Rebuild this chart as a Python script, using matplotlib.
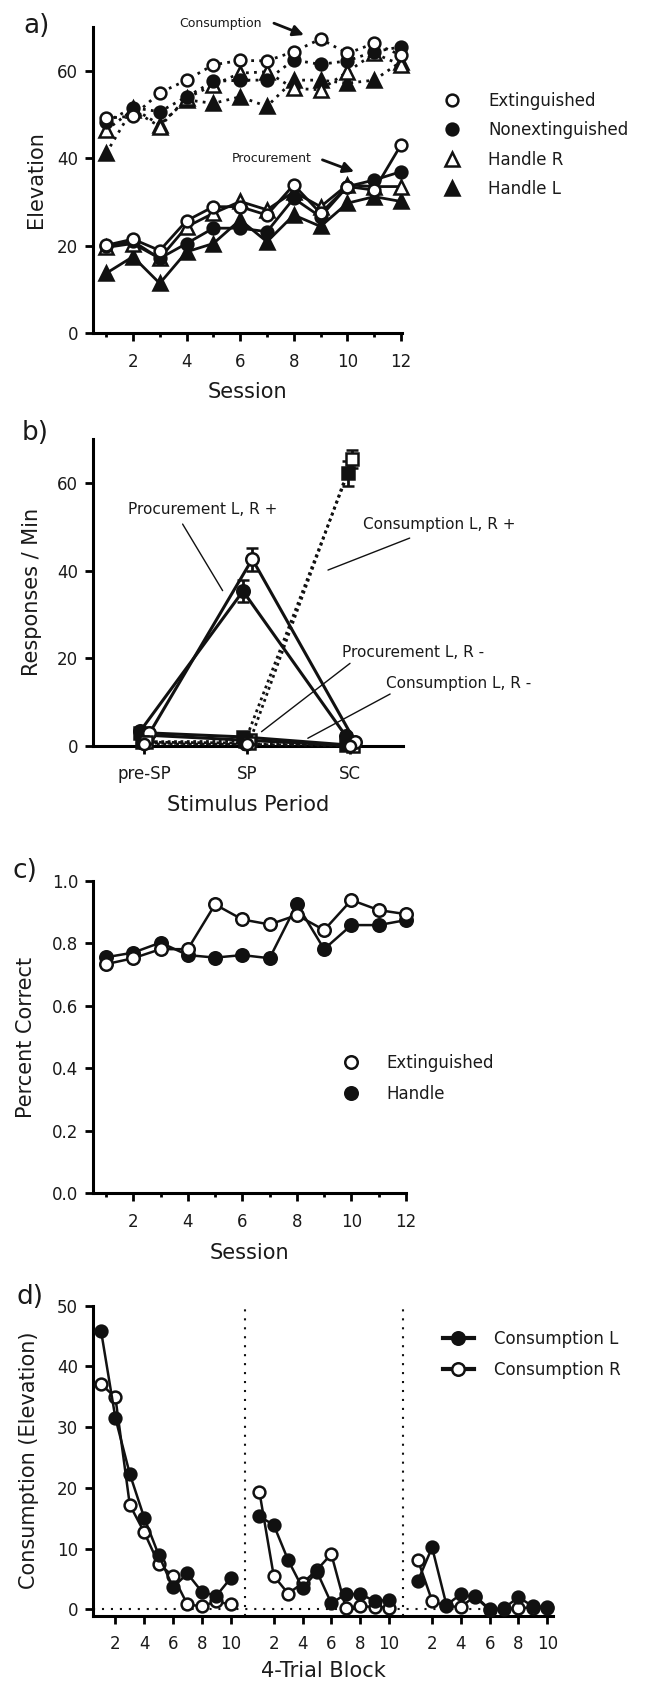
import numpy as np
import matplotlib.pyplot as plt
from matplotlib.lines import Line2D
from matplotlib.ticker import FixedLocator, FormatStrFormatter

plt.rcParams['font.family'] = ['DejaVu Sans']
plt.rcParams['text.color'] = '#1a1a1a'
plt.rcParams['axes.labelcolor'] = '#1a1a1a'
plt.rcParams['xtick.color'] = 'black'
plt.rcParams['ytick.color'] = 'black'
plt.rcParams['xtick.labelcolor'] = '#1a1a1a'
plt.rcParams['ytick.labelcolor'] = '#1a1a1a'

W, H = 659, 1682

# ---- panel a data ----
sessions = np.arange(1, 13)
cons_ext = [49.1, 49.6, 54.9, 57.8, 61.3, 62.3, 62.2, 64.3, 67.2, 63.9, 66.2, 63.5]
cons_nonext = [48.3, 51.5, 50.6, 54.0, 57.5, 57.8, 57.8, 62.4, 61.4, 62.2, 64.3, 65.4]
cons_hr = [46.4, 51.0, 47.2, 53.7, 56.7, 59.4, 59.7, 55.9, 55.6, 59.7, 63.9, 61.3]
cons_hl = [41.1, 51.4, 47.6, 53.3, 52.5, 54.0, 51.8, 57.8, 57.8, 57.1, 57.8, 62.0]
proc_ext = [20.1, 21.5, 18.9, 25.7, 28.9, 28.9, 27.0, 33.9, 27.4, 33.5, 32.7, 43.0]
proc_nonext = [20.0, 21.0, 17.1, 20.5, 24.0, 24.0, 23.2, 30.8, 26.6, 33.5, 35.0, 36.9]
proc_hr = [19.6, 20.5, 17.1, 24.3, 27.4, 30.1, 28.2, 32.3, 28.9, 33.9, 33.5, 33.5]
proc_hl = [13.7, 17.5, 11.4, 18.6, 20.5, 25.9, 20.9, 27.0, 24.4, 29.7, 31.2, 30.1]
labels_a = ['Extinguished', 'Nonextinguished', 'Handle R', 'Handle L']

# ---- panel b data ----
periods = ['pre-SP', 'SP', 'SC']
proc_pos_L = [3.3, 35.3, 2.2]
proc_pos_L_err = [0.6, 2.5, 0.6]
proc_pos_R = [2.8, 42.6, 0.9]
proc_pos_R_err = [0.5, 2.6, 0.5]
proc_neg_L = [3.0, 2.0, 0.2]
proc_neg_R = [2.4, 1.2, 0.0]
cons_pos_L = [0.9, 1.0, 62.2]
cons_pos_L_err = [0.3, 0.4, 2.9]
cons_pos_R = [0.8, 0.6, 65.4]
cons_pos_R_err = [0.3, 0.3, 2.0]
cons_neg_L = [0.6, 0.4, 0.2]
cons_neg_R = [0.4, 0.3, 0.0]

# ---- panel c data ----
pc_ext = [0.733, 0.752, 0.781, 0.781, 0.924, 0.876, 0.860, 0.890, 0.842, 0.938, 0.906, 0.893]
pc_handle = [0.755, 0.770, 0.802, 0.762, 0.754, 0.762, 0.752, 0.925, 0.781, 0.858, 0.858, 0.874]

# ---- panel d data ----
blocks = np.arange(1, 11)
group_offsets = [0, 11, 22]
cons_L = [[45.9, 31.5, 22.3, 15.1, 9.0, 3.6, 5.9, 2.9, 2.2, 5.1],
          [15.3, 13.9, 8.1, 3.5, 6.2, 1.0, 2.5, 2.5, 1.4, 1.5],
          [4.6, 10.2, 0.7, 2.5, 2.0, -0.1, 0.2, 2.0, 0.5, 0.4]]
cons_R = [[37.1, 34.9, 17.2, 12.7, 7.5, 5.5, 0.8, 0.5, 1.3, 0.8],
          [19.4, 5.5, 2.6, 4.3, 6.5, 9.1, 0.3, 0.5, 0.4, 0.3],
          [8.2, 1.4, 0.5, 0.4, 2.2, 0.0, 0.0, 0.2, 0.3, 0.2]]

BLK = '#111111'
dotted = (0, (1, 1.9))


def px_axes(fig, left, top, right, bottom):
    return fig.add_axes([left / W, 1 - bottom / H, (right - left) / W, (bottom - top) / H])


def style(ax):
    for s in ['top', 'right']:
        ax.spines[s].set_visible(False)
    for s in ['left', 'bottom']:
        ax.spines[s].set_linewidth(2.2)
        ax.spines[s].set_color('black')
    ax.tick_params(axis='both', which='major', length=6, width=2, labelsize=12)
    ax.tick_params(axis='x', which='major', pad=8)
    ax.tick_params(axis='y', which='major', pad=5)
    ax.tick_params(axis='both', which='minor', length=3, width=2)


def leg(ax, handles, labels, left, top, hl, htp, ls):
    ax.legend(handles, labels, loc='upper left', bbox_to_anchor=(left / W, 1 - top / H),
              bbox_transform=fig.transFigure, frameon=False, borderpad=0, borderaxespad=0,
              handlelength=hl, handletextpad=htp, labelspacing=ls, fontsize=12)


fig = plt.figure(figsize=(W / 100, H / 100), dpi=100)

# ================= a) =================
ax = px_axes(fig, 93.3, 26.7, 401.5, 333.3)
style(ax)
mk = [dict(marker='o', mfc='white'), dict(marker='o', mfc=BLK),
      dict(marker='^', mfc='white'), dict(marker='^', mfc=BLK)]
cons = [cons_ext, cons_nonext, cons_hr, cons_hl]
proc = [proc_ext, proc_nonext, proc_hr, proc_hl]
for i in [3, 2, 1, 0]:
    ms = 9.5 if mk[i]['marker'] == '^' else 8.5
    ax.plot(sessions, cons[i], ls=dotted, lw=2, color=BLK, mec=BLK, mew=1.8, ms=ms,
            clip_on=False, zorder=3 + (3 - i) * 0.1, **mk[i])
    ax.plot(sessions, proc[i], ls='-', lw=2, color=BLK, mec=BLK, mew=1.8, ms=ms,
            clip_on=False, zorder=3 + (3 - i) * 0.1, **mk[i])
ax.set_xlim(0.52, 12.02)
ax.set_ylim(0, 70)
ax.set_yticks([0, 20, 40, 60])
ax.xaxis.set_major_locator(FixedLocator([2, 4, 6, 8, 10, 12]))
ax.xaxis.set_minor_locator(FixedLocator([1, 3, 5, 7, 9, 11]))
ax.set_xlabel('Session', fontsize=15)
ax.set_ylabel('Elevation', fontsize=15)
ax.xaxis.set_label_coords(0.5, -0.158)
ax.yaxis.set_label_coords(-0.154, 0.5)
ax.annotate('', xy=(8.38, 68.1), xytext=(7.26, 70.8),
            arrowprops=dict(arrowstyle='-|>', lw=2, color=BLK, mutation_scale=16,
                            shrinkA=0, shrinkB=0), annotation_clip=False)
ax.text(5.26, 70.8, 'Consumption', fontsize=9, ha='center', va='center')
ax.annotate('', xy=(10.25, 36.9), xytext=(9.07, 39.6),
            arrowprops=dict(arrowstyle='-|>', lw=2, color=BLK, mutation_scale=16,
                            shrinkA=0, shrinkB=0))
ax.text(7.16, 40.0, 'Procurement', fontsize=9, ha='center', va='center')
hs = [Line2D([], [], ls='none', mec=BLK, mew=1.8, ms=(9.5 if m['marker'] == '^' else 8.5), **m)
      for m in mk]
leg(ax, hs, labels_a, 443.7, 92, 1, 1.66, 0.68)
fig.text(23 / W, 1 - 13 / H, 'a)', fontsize=19, ha='left', va='top')

# ================= b) =================
ax = px_axes(fig, 93.3, 439.1, 403.3, 745.7)
style(ax)
xb = np.arange(len(periods))
ax.errorbar(xb - 0.04, proc_pos_L, yerr=proc_pos_L_err, marker='o', ms=9, mfc=BLK, mec=BLK,
            mew=1.8, color=BLK, lw=2.2, capsize=4.5, capthick=2, elinewidth=2, clip_on=False, zorder=4)
ax.errorbar(xb + 0.05, proc_pos_R, yerr=proc_pos_R_err, marker='o', ms=9, mfc='white', mec=BLK,
            mew=1.8, color=BLK, lw=2.2, capsize=4.5, capthick=2, elinewidth=2, clip_on=False, zorder=4)
ax.plot(xb - 0.04, proc_neg_L, marker='s', ms=8.5, mfc=BLK, mec=BLK, mew=1.8, color=BLK, lw=2.2,
        clip_on=False, zorder=4)
ax.plot(xb + 0.03, proc_neg_R, marker='s', ms=8.5, mfc='white', mec=BLK, mew=1.8, color=BLK, lw=2.2,
        clip_on=False, zorder=4)
ax.errorbar(xb - 0.02, cons_pos_L, yerr=cons_pos_L_err, marker='s', ms=8.5, mfc=BLK, mec=BLK,
            mew=1.8, color=BLK, lw=2, ls=(0, (1, 1.3)), capsize=4.5, capthick=2, elinewidth=2,
            clip_on=False, zorder=5)
ax.errorbar(xb + 0.02, cons_pos_R, yerr=cons_pos_R_err, marker='s', ms=8.5, mfc='white', mec=BLK,
            mew=1.8, color=BLK, lw=2, ls=(0, (1, 1.3)), capsize=4.5, capthick=2, elinewidth=2,
            clip_on=False, zorder=5)
ax.plot(xb - 0.02, cons_neg_L, marker='o', ms=8, mfc=BLK, mec=BLK, mew=1.8, color=BLK, lw=2,
        ls=(0, (1, 1.3)), clip_on=False, zorder=5)
ax.plot(xb + 0.0, cons_neg_R, marker='o', ms=8, mfc='white', mec=BLK, mew=1.8, color=BLK, lw=2,
        ls=(0, (1, 1.3)), clip_on=False, zorder=6)
ax.set_xlim(-0.495, 2.518)
ax.set_ylim(0, 70)
ax.set_yticks([0, 20, 40, 60])
ax.set_xticks(xb)
ax.set_xticklabels(periods)
ax.set_xlabel('Stimulus Period', fontsize=15)
ax.set_ylabel('Responses / Min', fontsize=15)
ax.xaxis.set_label_coords(0.5, -0.16)
ax.yaxis.set_label_coords(-0.165, 0.5)
notes_b = [('Procurement L, R +', (0.57, 54.0), (0.373, 50.6), (0.762, 35.4)),
           ('Consumption L, R +', (2.87, 50.6), (2.58, 47.4), (1.786, 40.1)),
           ('Procurement L, R -', (2.61, 21.3), (2.0, 18.8), (1.14, 3.2)),
           ('Consumption L, R -', (3.06, 14.1), (2.39, 11.8), (1.59, 1.7))]
for txt, tp, p0, p1 in notes_b:
    ax.text(tp[0], tp[1], txt, fontsize=11, ha='center', va='center', clip_on=False)
    ax.annotate('', xy=p1, xytext=p0, annotation_clip=False,
                arrowprops=dict(arrowstyle='-', lw=1, color=BLK, shrinkA=0, shrinkB=0))
fig.text(22 / W, 1 - 420 / H, 'b)', fontsize=19, ha='left', va='top')

# ================= c) =================
ax = px_axes(fig, 93.3, 880.7, 406.5, 1193.3)
style(ax)
ax.plot(sessions, pc_handle, marker='o', ms=9, mfc=BLK, mec=BLK, mew=1.8, color=BLK, lw=1.8,
        clip_on=False, zorder=3)
ax.plot(sessions, pc_ext, marker='o', ms=9, mfc='white', mec=BLK, mew=1.8, color=BLK, lw=1.8,
        clip_on=False, zorder=4)
ax.set_xlim(0.535, 12.02)
ax.set_ylim(0, 1.0)
ax.set_yticks([0, 0.2, 0.4, 0.6, 0.8, 1.0])
ax.yaxis.set_major_formatter(FormatStrFormatter('%.1f'))
ax.xaxis.set_major_locator(FixedLocator([2, 4, 6, 8, 10, 12]))
ax.xaxis.set_minor_locator(FixedLocator([1, 3, 5, 7, 9, 11]))
ax.set_xlabel('Session', fontsize=15)
ax.set_ylabel('Percent Correct', fontsize=15)
ax.xaxis.set_label_coords(0.5, -0.159)
ax.yaxis.set_label_coords(-0.183, 0.5)
hs = [Line2D([], [], ls='none', marker='o', ms=9, mfc='white', mec=BLK, mew=1.8),
      Line2D([], [], ls='none', marker='o', ms=9, mfc=BLK, mec=BLK, mew=1.8)]
leg(ax, hs, ['Extinguished', 'Handle'], 342.4, 1054.3, 1, 1.66, 0.75)
fig.text(13 / W, 1 - 858 / H, 'c)', fontsize=19, ha='left', va='top')

# ================= d) =================
ax = px_axes(fig, 93.3, 1305.7, 553, 1615.7)
style(ax)
for g, off in enumerate(group_offsets):
    ax.plot(blocks + off, cons_R[g], marker='o', ms=8.5, mfc='white', mec=BLK, mew=1.8, color=BLK,
            lw=1.8, clip_on=False, zorder=3)
    ax.plot(blocks + off, cons_L[g], marker='o', ms=8.5, mfc=BLK, mec=BLK, mew=1.8, color=BLK,
            lw=1.8, clip_on=False, zorder=4)
ax.axhline(0, ls=(0, (1, 3.3)), lw=1.5, color=BLK, zorder=2)
for off in group_offsets[1:]:
    ax.axvline(off, ls=(0, (1, 3.3)), lw=1.5, color=BLK, zorder=2)
ax.set_xlim(0.465, 32.4)
ax.set_ylim(-1.05, 50)
ax.set_yticks([0, 10, 20, 30, 40, 50])
tick_pos = [off + b for off in group_offsets for b in [2, 4, 6, 8, 10]]
ax.set_xticks(tick_pos)
ax.set_xticklabels([str(b) for off in group_offsets for b in [2, 4, 6, 8, 10]])
ax.set_xlabel('4-Trial Block', fontsize=15)
ax.set_ylabel('Consumption (Elevation)', fontsize=15)
ax.xaxis.set_label_coords(0.5, -0.145)
ax.yaxis.set_label_coords(-0.118, 0.5)
hs = [Line2D([], [], marker='o', ms=9, mfc=BLK, mec=BLK, mew=1.8, color=BLK, lw=3),
      Line2D([], [], marker='o', ms=9, mfc='white', mec=BLK, mew=1.8, color=BLK, lw=3)]
leg(ax, hs, ['Consumption L', 'Consumption R'], 442.7, 1330.3, 1.86, 1.2, 0.78)
fig.text(17 / W, 1 - 1284 / H, 'd)', fontsize=19, ha='left', va='top')

fig.savefig('out.png', dpi=100)
